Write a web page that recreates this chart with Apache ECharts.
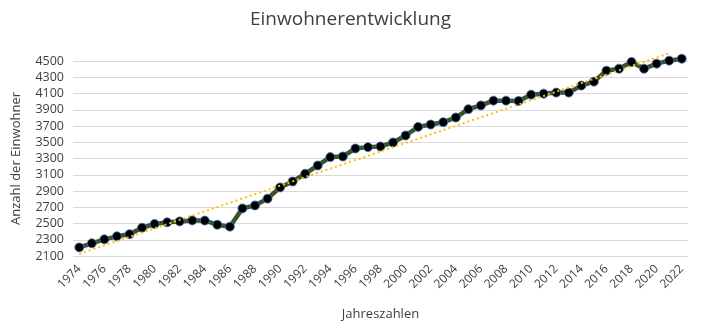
<!DOCTYPE html>
<html><head><meta charset="utf-8">
<script src="https://cdn.jsdelivr.net/npm/echarts@6/dist/echarts.min.js"></script>
<style>html,body{margin:0;padding:0;background:#fff}#c{width:701px;height:333px}</style>
</head><body><div id="c"></div>
<script>
const years = ['1974','1975','1976','1977','1978','1979','1980','1981','1982','1983','1984','1985','1986','1987','1988','1989','1990','1991','1992','1993','1994','1995','1996','1997','1998','1999','2000','2001','2002','2003','2004','2005','2006','2007','2008','2009','2010','2011','2012','2013','2014','2015','2016','2017','2018','2019','2020','2021','2022'];
const population = [2206,2256,2305,2342,2368,2448,2494,2514,2526,2538,2536,2485,2461,2686,2722,2806,2944,3017,3112,3214,3317,3325,3423,3440,3448,3497,3583,3689,3718,3747,3804,3907,3953,4012,4012,4008,4086,4098,4111,4111,4197,4246,4381,4405,4488,4405,4467,4504,4528];
const trendYears = ['1974','2021'];
const trendValues = [2125,4595];
const yTicks = [2100,2300,2500,2700,2900,3100,3300,3500,3700,3900,4100,4300,4500];

const trendData = years.map(y => { const i = trendYears.indexOf(y); return i >= 0 ? trendValues[i] : null; });
const FONT = 'Open Sans';
const chart = echarts.init(document.getElementById('c'));
chart.setOption({
  animation: false,
  title: { text: 'Einwohnerentwicklung', left: 'center', top: 5,
    textStyle: { fontFamily: FONT, fontSize: 19, fontWeight: 'normal', color: '#404040' } },
  grid: { left: 73, right: 13, top: 61, bottom: 77 },
  xAxis: {
    type: 'category', data: years, boundaryGap: true,
    name: 'Jahreszahlen', nameLocation: 'middle', nameGap: 52,
    nameTextStyle: { fontFamily: FONT, fontSize: 13, color: '#404040' },
    axisLine: { show: false }, axisTick: { show: false },
    axisLabel: { interval: 1, rotate: 45, fontFamily: FONT, fontSize: 12, color: '#404040', margin: 11 }
  },
  yAxis: {
    type: 'value', min: yTicks[0], max: yTicks[yTicks.length-1], interval: 200,
    name: 'Anzahl der Einwohner', nameLocation: 'middle', nameGap: 50,
    nameTextStyle: { fontFamily: FONT, fontSize: 13, color: '#404040' },
    axisLine: { show: false }, axisTick: { show: false },
    axisLabel: { fontFamily: FONT, fontSize: 12.5, color: '#404040', margin: 9, formatter: v => String(v) },
    splitLine: { lineStyle: { color: '#d9d9d9', width: 1 } }
  },
  series: [
    { type: 'line', data: population, clip: false, z: 2, showAllSymbol: true,
      lineStyle: { color: '#375623', width: 4.5 },
      symbol: 'circle', symbolSize: 9,
      itemStyle: { color: '#000000', borderColor: '#4472c4', borderWidth: 0.8 } },
    { type: 'line', data: trendData, connectNulls: true, clip: false, z: 3,
      symbol: 'none', lineStyle: { color: '#ffc000', width: 2, type: [2, 3] } }
  ]
});
</script></body></html>
